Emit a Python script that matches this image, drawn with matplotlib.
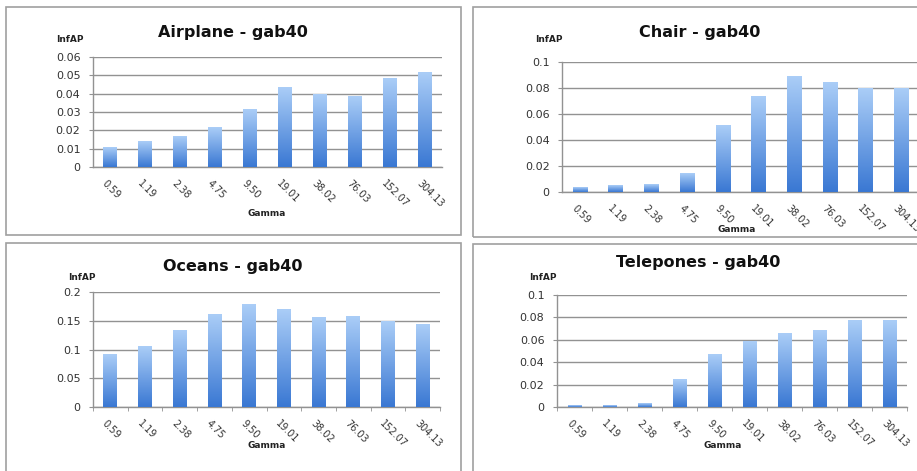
import numpy as np
import matplotlib
matplotlib.use("Agg")
import matplotlib.pyplot as plt
import matplotlib.transforms as mtrans
from matplotlib.colors import LinearSegmentedColormap
from matplotlib.patches import Rectangle

gammas = ["0.59", "1.19", "2.38", "4.75", "9.50", "19.01", "38.02", "76.03", "152.07", "304.13"]

airplane = [0.0107, 0.0137, 0.0164, 0.0213, 0.0316, 0.0436, 0.0396, 0.0384, 0.0484, 0.0513]
chair = [0.0036, 0.0049, 0.0059, 0.0141, 0.0515, 0.0738, 0.0885, 0.0844, 0.0800, 0.0800]
oceans = [0.091, 0.105, 0.133, 0.160, 0.178, 0.169, 0.156, 0.158, 0.148, 0.143]
telepones = [0.0012, 0.0012, 0.003, 0.0245, 0.047, 0.0588, 0.0657, 0.0687, 0.0776, 0.0776]

titles = ["Airplane - gab40", "Chair - gab40", "Oceans - gab40", "Telepones - gab40"]
series = [airplane, chair, oceans, telepones]
yticks = [np.arange(0, 0.061, 0.01), np.arange(0, 0.101, 0.02),
          np.arange(0, 0.201, 0.05), np.arange(0, 0.101, 0.02)]
ylabels = [["0", "0.01", "0.02", "0.03", "0.04", "0.05", "0.06"],
           ["0", "0.02", "0.04", "0.06", "0.08", "0.1"],
           ["0", "0.05", "0.1", "0.15", "0.2"],
           ["0", "0.02", "0.04", "0.06", "0.08", "0.1"]]

W, H = 917, 471
fig = plt.figure(figsize=(W / 100, H / 100), dpi=100)
fig.patch.set_facecolor("white")

def fx(px):
    return px / W

def fy(py):
    return 1 - py / H

# panel frames (pixels: left, top, right, bottom)
frames = [(6, 7, 461, 235), (473, 7, 922, 237), (6, 243, 461, 476), (473, 244, 922, 476)]
for l, t, r, b in frames:
    fig.patches.append(Rectangle((fx(l), fy(b)), fx(r - l), fy(t) - fy(b),
                                 transform=fig.transFigure, fill=False,
                                 edgecolor="#a0a0a0", linewidth=1.2))

# plot areas (pixels: left, right, top, bottom) and label spots
areas = [(93, 442, 57, 167), (562, 919, 62, 192), (93, 440, 292, 407), (557, 907, 295, 407)]
title_pos = [(233, 32), (700, 32), (233, 267), (698, 262)]
infap_pos = [(70, 39), (549, 39), (82, 278), (543, 277)]
gamma_pos = [(267, 213), (737, 230), (267, 446), (723, 446)]
xticks_on = [False, False, True, True]

cmap = LinearSegmentedColormap.from_list("bar", ["#3a78d3", "#aacdf7"])
grad = np.linspace(0, 1, 100).reshape(-1, 1)

for i in range(4):
    l, r, t, b = areas[i]
    ax = fig.add_axes([fx(l), fy(b), fx(r - l), fy(t) - fy(b)])
    x = np.arange(len(gammas))
    bars = ax.bar(x, series[i], width=0.4, color="none", edgecolor="none", zorder=3)
    for p in bars:
        x0, y0 = p.get_x(), p.get_y()
        ax.imshow(grad, extent=(x0, x0 + p.get_width(), y0, y0 + p.get_height()),
                  origin="lower", cmap=cmap, aspect="auto", zorder=3)
    ax.set_xlim(-0.5, len(gammas) - 0.5)
    ax.set_ylim(0, yticks[i][-1])
    ax.set_yticks(yticks[i])
    ax.set_yticklabels(ylabels[i], fontsize=8, color="#333333")
    ax.yaxis.grid(True, color="#929292", linewidth=1.0, zorder=0)
    ax.set_axisbelow(True)
    for s in ["top", "right"]:
        ax.spines[s].set_visible(False)
    for s in ["left", "bottom"]:
        ax.spines[s].set_color("#929292")
        ax.spines[s].set_linewidth(1.0)
    ax.tick_params(axis="y", length=3, color="#929292", pad=6)
    ax.set_xticks(x)
    ax.set_xticklabels(gammas, fontsize=7, color="#333333", rotation=-45,
                       ha="left", va="top")
    ax.tick_params(axis="x", length=0, pad=8)
    off = mtrans.ScaledTranslation(-10 / 100, 0, fig.dpi_scale_trans)
    for lab in ax.get_xticklabels():
        lab.set_transform(lab.get_transform() + off)
    if xticks_on[i]:
        ax.set_xticks(np.arange(-0.5, len(gammas), 1.0), minor=True)
        ax.tick_params(axis="x", which="minor", length=3, color="#929292")
    ax.set_facecolor("white")

    tx, ty = title_pos[i]
    fig.text(fx(tx), fy(ty), titles[i], fontsize=11.5, fontweight="bold",
             ha="center", va="center", color="#111111")
    ix, iy = infap_pos[i]
    fig.text(fx(ix), fy(iy), "InfAP", fontsize=6.5, fontweight="bold",
             ha="center", va="center", color="#222222")
    gx, gy = gamma_pos[i]
    fig.text(fx(gx), fy(gy), "Gamma", fontsize=6.5, fontweight="bold",
             ha="center", va="center", color="#222222")

fig.savefig("out.png", dpi=100)
